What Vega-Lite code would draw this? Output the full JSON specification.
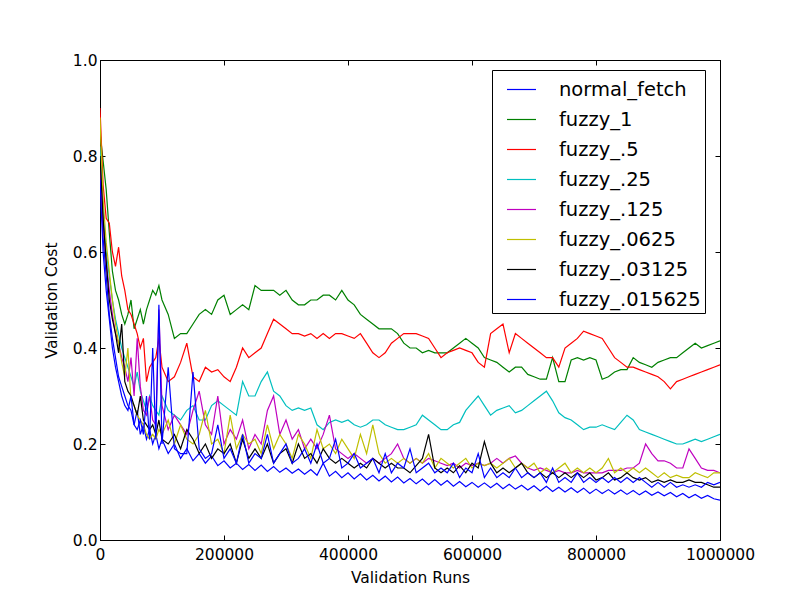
{
  "$schema": "https://vega.github.io/schema/vega-lite/v6.json",
  "width": 620,
  "height": 480,
  "autosize": {"type": "none"},
  "padding": {"left": 100, "top": 60, "right": 80, "bottom": 60},
  "background": "white",
  "data": {
    "values": [
      {"x": 0, "n": 0.80, "g": 0.85, "r": 0.90, "c": 0.82, "m": 0.78, "y": 0.88, "k": 0.80, "b": 0.75},
      {"x": 5000, "n": 0.63, "g": 0.79, "r": 0.74, "c": 0.68, "m": 0.66, "y": 0.71, "k": 0.67, "b": 0.60},
      {"x": 10000, "n": 0.55, "g": 0.73, "r": 0.67, "c": 0.60, "m": 0.58, "y": 0.62, "k": 0.58, "b": 0.52},
      {"x": 15000, "n": 0.47, "g": 0.64, "r": 0.66, "c": 0.55, "m": 0.52, "y": 0.56, "k": 0.50, "b": 0.46},
      {"x": 20000, "n": 0.42, "g": 0.56, "r": 0.60, "c": 0.50, "m": 0.47, "y": 0.50, "k": 0.46, "b": 0.40},
      {"x": 25000, "n": 0.38, "g": 0.52, "r": 0.57, "c": 0.46, "m": 0.43, "y": 0.45, "k": 0.43, "b": 0.36},
      {"x": 30000, "n": 0.34, "g": 0.50, "r": 0.61, "c": 0.43, "m": 0.41, "y": 0.41, "k": 0.39, "b": 0.33},
      {"x": 35000, "n": 0.32, "g": 0.47, "r": 0.55, "c": 0.40, "m": 0.38, "y": 0.37, "k": 0.45, "b": 0.30},
      {"x": 40000, "n": 0.30, "g": 0.45, "r": 0.52, "c": 0.38, "m": 0.36, "y": 0.34, "k": 0.33, "b": 0.28},
      {"x": 45000, "n": 0.28, "g": 0.47, "r": 0.48, "c": 0.36, "m": 0.33, "y": 0.40, "k": 0.31, "b": 0.27},
      {"x": 50000, "n": 0.27, "g": 0.50, "r": 0.47, "c": 0.34, "m": 0.38, "y": 0.29, "k": 0.30, "b": 0.30},
      {"x": 55000, "n": 0.24, "g": 0.44, "r": 0.45, "c": 0.32, "m": 0.30, "y": 0.28, "k": 0.28, "b": 0.24},
      {"x": 60000, "n": 0.27, "g": 0.46, "r": 0.43, "c": 0.35, "m": 0.42, "y": 0.26, "k": 0.26, "b": 0.23},
      {"x": 65000, "n": 0.22, "g": 0.48, "r": 0.40, "c": 0.31, "m": 0.32, "y": 0.25, "k": 0.30, "b": 0.25},
      {"x": 70000, "n": 0.24, "g": 0.45, "r": 0.42, "c": 0.29, "m": 0.27, "y": 0.24, "k": 0.25, "b": 0.22},
      {"x": 75000, "n": 0.21, "g": 0.48, "r": 0.33, "c": 0.27, "m": 0.26, "y": 0.22, "k": 0.24, "b": 0.30},
      {"x": 80000, "n": 0.23, "g": 0.50, "r": 0.36, "c": 0.30, "m": 0.30, "y": 0.21, "k": 0.23, "b": 0.21},
      {"x": 85000, "n": 0.20, "g": 0.52, "r": 0.37, "c": 0.28, "m": 0.25, "y": 0.22, "k": 0.24, "b": 0.40},
      {"x": 90000, "n": 0.22, "g": 0.51, "r": 0.38, "c": 0.27, "m": 0.24, "y": 0.21, "k": 0.22, "b": 0.21},
      {"x": 95000, "n": 0.19, "g": 0.53, "r": 0.42, "c": 0.26, "m": 0.48, "y": 0.23, "k": 0.25, "b": 0.49},
      {"x": 100000, "n": 0.21, "g": 0.50, "r": 0.36, "c": 0.30, "m": 0.28, "y": 0.22, "k": 0.21, "b": 0.20},
      {"x": 110000, "n": 0.18, "g": 0.47, "r": 0.33, "c": 0.27, "m": 0.23, "y": 0.25, "k": 0.20, "b": 0.36},
      {"x": 120000, "n": 0.20, "g": 0.42, "r": 0.34, "c": 0.26, "m": 0.26, "y": 0.20, "k": 0.22, "b": 0.19},
      {"x": 130000, "n": 0.17, "g": 0.43, "r": 0.37, "c": 0.25, "m": 0.24, "y": 0.24, "k": 0.19, "b": 0.18},
      {"x": 140000, "n": 0.19, "g": 0.43, "r": 0.41, "c": 0.27, "m": 0.22, "y": 0.21, "k": 0.23, "b": 0.18},
      {"x": 150000, "n": 0.165, "g": 0.45, "r": 0.34, "c": 0.28, "m": 0.27, "y": 0.20, "k": 0.21, "b": 0.35},
      {"x": 160000, "n": 0.18, "g": 0.47, "r": 0.33, "c": 0.25, "m": 0.31, "y": 0.22, "k": 0.18, "b": 0.19},
      {"x": 170000, "n": 0.16, "g": 0.48, "r": 0.36, "c": 0.25, "m": 0.24, "y": 0.27, "k": 0.20, "b": 0.17},
      {"x": 180000, "n": 0.175, "g": 0.47, "r": 0.35, "c": 0.28, "m": 0.22, "y": 0.20, "k": 0.17, "b": 0.18},
      {"x": 190000, "n": 0.155, "g": 0.50, "r": 0.355, "c": 0.29, "m": 0.30, "y": 0.21, "k": 0.19, "b": 0.24},
      {"x": 200000, "n": 0.165, "g": 0.51, "r": 0.34, "c": 0.28, "m": 0.20, "y": 0.18, "k": 0.18, "b": 0.17},
      {"x": 210000, "n": 0.15, "g": 0.47, "r": 0.33, "c": 0.27, "m": 0.23, "y": 0.26, "k": 0.20, "b": 0.19},
      {"x": 220000, "n": 0.16, "g": 0.48, "r": 0.36, "c": 0.26, "m": 0.21, "y": 0.19, "k": 0.16, "b": 0.16},
      {"x": 230000, "n": 0.147, "g": 0.49, "r": 0.40, "c": 0.33, "m": 0.25, "y": 0.22, "k": 0.21, "b": 0.22},
      {"x": 240000, "n": 0.157, "g": 0.48, "r": 0.38, "c": 0.30, "m": 0.19, "y": 0.20, "k": 0.17, "b": 0.16},
      {"x": 250000, "n": 0.145, "g": 0.53, "r": 0.39, "c": 0.30, "m": 0.22, "y": 0.21, "k": 0.19, "b": 0.18},
      {"x": 260000, "n": 0.156, "g": 0.52, "r": 0.40, "c": 0.33, "m": 0.20, "y": 0.18, "k": 0.17, "b": 0.17},
      {"x": 270000, "n": 0.143, "g": 0.52, "r": 0.43, "c": 0.35, "m": 0.27, "y": 0.24, "k": 0.20, "b": 0.22},
      {"x": 280000, "n": 0.153, "g": 0.52, "r": 0.46, "c": 0.31, "m": 0.30, "y": 0.19, "k": 0.16, "b": 0.16},
      {"x": 290000, "n": 0.141, "g": 0.51, "r": 0.45, "c": 0.30, "m": 0.22, "y": 0.22, "k": 0.18, "b": 0.18},
      {"x": 300000, "n": 0.15, "g": 0.52, "r": 0.44, "c": 0.28, "m": 0.25, "y": 0.20, "k": 0.19, "b": 0.20},
      {"x": 310000, "n": 0.139, "g": 0.50, "r": 0.43, "c": 0.27, "m": 0.21, "y": 0.17, "k": 0.16, "b": 0.16},
      {"x": 320000, "n": 0.148, "g": 0.49, "r": 0.43, "c": 0.275, "m": 0.23, "y": 0.22, "k": 0.20, "b": 0.17},
      {"x": 330000, "n": 0.137, "g": 0.49, "r": 0.425, "c": 0.27, "m": 0.19, "y": 0.20, "k": 0.17, "b": 0.19},
      {"x": 340000, "n": 0.147, "g": 0.50, "r": 0.43, "c": 0.275, "m": 0.21, "y": 0.17, "k": 0.18, "b": 0.16},
      {"x": 350000, "n": 0.135, "g": 0.50, "r": 0.42, "c": 0.24, "m": 0.19, "y": 0.23, "k": 0.16, "b": 0.20},
      {"x": 360000, "n": 0.16, "g": 0.51, "r": 0.43, "c": 0.23, "m": 0.22, "y": 0.19, "k": 0.19, "b": 0.16},
      {"x": 370000, "n": 0.133, "g": 0.51, "r": 0.42, "c": 0.245, "m": 0.26, "y": 0.20, "k": 0.17, "b": 0.17},
      {"x": 380000, "n": 0.143, "g": 0.50, "r": 0.43, "c": 0.25, "m": 0.19, "y": 0.18, "k": 0.16, "b": 0.21},
      {"x": 390000, "n": 0.13, "g": 0.52, "r": 0.43, "c": 0.245, "m": 0.18, "y": 0.21, "k": 0.17, "b": 0.15},
      {"x": 400000, "n": 0.14, "g": 0.50, "r": 0.425, "c": 0.25, "m": 0.17, "y": 0.19, "k": 0.16, "b": 0.16},
      {"x": 410000, "n": 0.127, "g": 0.49, "r": 0.42, "c": 0.24, "m": 0.18, "y": 0.17, "k": 0.15, "b": 0.18},
      {"x": 420000, "n": 0.138, "g": 0.47, "r": 0.43, "c": 0.235, "m": 0.17, "y": 0.22, "k": 0.16, "b": 0.15},
      {"x": 430000, "n": 0.125, "g": 0.46, "r": 0.41, "c": 0.24, "m": 0.16, "y": 0.18, "k": 0.15, "b": 0.16},
      {"x": 440000, "n": 0.135, "g": 0.45, "r": 0.39, "c": 0.25, "m": 0.17, "y": 0.24, "k": 0.17, "b": 0.17},
      {"x": 450000, "n": 0.123, "g": 0.44, "r": 0.38, "c": 0.25, "m": 0.16, "y": 0.18, "k": 0.16, "b": 0.14},
      {"x": 460000, "n": 0.133, "g": 0.44, "r": 0.39, "c": 0.24, "m": 0.17, "y": 0.16, "k": 0.15, "b": 0.18},
      {"x": 470000, "n": 0.121, "g": 0.44, "r": 0.41, "c": 0.235, "m": 0.18, "y": 0.17, "k": 0.16, "b": 0.14},
      {"x": 480000, "n": 0.131, "g": 0.43, "r": 0.42, "c": 0.23, "m": 0.20, "y": 0.16, "k": 0.15, "b": 0.16},
      {"x": 490000, "n": 0.119, "g": 0.41, "r": 0.43, "c": 0.23, "m": 0.17, "y": 0.17, "k": 0.15, "b": 0.15},
      {"x": 500000, "n": 0.128, "g": 0.40, "r": 0.43, "c": 0.235, "m": 0.16, "y": 0.16, "k": 0.14, "b": 0.19},
      {"x": 510000, "n": 0.117, "g": 0.40, "r": 0.43, "c": 0.24, "m": 0.17, "y": 0.17, "k": 0.155, "b": 0.14},
      {"x": 520000, "n": 0.127, "g": 0.39, "r": 0.425, "c": 0.26, "m": 0.16, "y": 0.16, "k": 0.17, "b": 0.15},
      {"x": 530000, "n": 0.115, "g": 0.395, "r": 0.42, "c": 0.25, "m": 0.17, "y": 0.18, "k": 0.22, "b": 0.16},
      {"x": 540000, "n": 0.126, "g": 0.39, "r": 0.40, "c": 0.24, "m": 0.165, "y": 0.15, "k": 0.15, "b": 0.14},
      {"x": 550000, "n": 0.114, "g": 0.39, "r": 0.38, "c": 0.23, "m": 0.16, "y": 0.17, "k": 0.14, "b": 0.15},
      {"x": 560000, "n": 0.124, "g": 0.39, "r": 0.39, "c": 0.23, "m": 0.155, "y": 0.16, "k": 0.15, "b": 0.14},
      {"x": 570000, "n": 0.112, "g": 0.40, "r": 0.395, "c": 0.24, "m": 0.16, "y": 0.15, "k": 0.14, "b": 0.16},
      {"x": 580000, "n": 0.122, "g": 0.41, "r": 0.40, "c": 0.245, "m": 0.15, "y": 0.16, "k": 0.155, "b": 0.13},
      {"x": 590000, "n": 0.111, "g": 0.42, "r": 0.395, "c": 0.27, "m": 0.16, "y": 0.17, "k": 0.14, "b": 0.15},
      {"x": 600000, "n": 0.12, "g": 0.41, "r": 0.39, "c": 0.285, "m": 0.155, "y": 0.15, "k": 0.16, "b": 0.14},
      {"x": 610000, "n": 0.11, "g": 0.40, "r": 0.37, "c": 0.30, "m": 0.16, "y": 0.16, "k": 0.15, "b": 0.18},
      {"x": 620000, "n": 0.119, "g": 0.38, "r": 0.36, "c": 0.28, "m": 0.155, "y": 0.155, "k": 0.205, "b": 0.13},
      {"x": 630000, "n": 0.109, "g": 0.375, "r": 0.43, "c": 0.26, "m": 0.16, "y": 0.16, "k": 0.16, "b": 0.15},
      {"x": 640000, "n": 0.118, "g": 0.37, "r": 0.44, "c": 0.27, "m": 0.17, "y": 0.15, "k": 0.14, "b": 0.13},
      {"x": 650000, "n": 0.107, "g": 0.36, "r": 0.45, "c": 0.275, "m": 0.16, "y": 0.16, "k": 0.15, "b": 0.14},
      {"x": 660000, "n": 0.116, "g": 0.35, "r": 0.39, "c": 0.28, "m": 0.17, "y": 0.17, "k": 0.14, "b": 0.13},
      {"x": 670000, "n": 0.106, "g": 0.36, "r": 0.43, "c": 0.265, "m": 0.175, "y": 0.15, "k": 0.15, "b": 0.15},
      {"x": 680000, "n": 0.114, "g": 0.36, "r": 0.42, "c": 0.27, "m": 0.16, "y": 0.16, "k": 0.16, "b": 0.13},
      {"x": 690000, "n": 0.104, "g": 0.345, "r": 0.41, "c": 0.28, "m": 0.15, "y": 0.15, "k": 0.14, "b": 0.14},
      {"x": 700000, "n": 0.113, "g": 0.34, "r": 0.40, "c": 0.29, "m": 0.145, "y": 0.16, "k": 0.13, "b": 0.13},
      {"x": 710000, "n": 0.102, "g": 0.335, "r": 0.39, "c": 0.30, "m": 0.15, "y": 0.14, "k": 0.14, "b": 0.14},
      {"x": 720000, "n": 0.112, "g": 0.335, "r": 0.38, "c": 0.31, "m": 0.145, "y": 0.15, "k": 0.13, "b": 0.12},
      {"x": 730000, "n": 0.101, "g": 0.38, "r": 0.38, "c": 0.29, "m": 0.14, "y": 0.14, "k": 0.14, "b": 0.15},
      {"x": 740000, "n": 0.11, "g": 0.33, "r": 0.36, "c": 0.265, "m": 0.145, "y": 0.15, "k": 0.13, "b": 0.12},
      {"x": 750000, "n": 0.10, "g": 0.33, "r": 0.40, "c": 0.255, "m": 0.14, "y": 0.16, "k": 0.14, "b": 0.13},
      {"x": 760000, "n": 0.109, "g": 0.375, "r": 0.41, "c": 0.25, "m": 0.14, "y": 0.14, "k": 0.13, "b": 0.12},
      {"x": 770000, "n": 0.099, "g": 0.38, "r": 0.42, "c": 0.24, "m": 0.145, "y": 0.15, "k": 0.14, "b": 0.14},
      {"x": 780000, "n": 0.108, "g": 0.375, "r": 0.435, "c": 0.23, "m": 0.14, "y": 0.14, "k": 0.13, "b": 0.12},
      {"x": 790000, "n": 0.097, "g": 0.38, "r": 0.43, "c": 0.235, "m": 0.14, "y": 0.15, "k": 0.14, "b": 0.13},
      {"x": 800000, "n": 0.106, "g": 0.375, "r": 0.425, "c": 0.235, "m": 0.14, "y": 0.14, "k": 0.125, "b": 0.12},
      {"x": 810000, "n": 0.097, "g": 0.335, "r": 0.42, "c": 0.24, "m": 0.14, "y": 0.15, "k": 0.13, "b": 0.13},
      {"x": 820000, "n": 0.105, "g": 0.34, "r": 0.40, "c": 0.235, "m": 0.145, "y": 0.17, "k": 0.14, "b": 0.12},
      {"x": 830000, "n": 0.096, "g": 0.35, "r": 0.38, "c": 0.23, "m": 0.145, "y": 0.14, "k": 0.125, "b": 0.13},
      {"x": 840000, "n": 0.104, "g": 0.355, "r": 0.37, "c": 0.245, "m": 0.145, "y": 0.15, "k": 0.13, "b": 0.12},
      {"x": 850000, "n": 0.095, "g": 0.355, "r": 0.36, "c": 0.26, "m": 0.15, "y": 0.14, "k": 0.14, "b": 0.13},
      {"x": 860000, "n": 0.103, "g": 0.38, "r": 0.36, "c": 0.25, "m": 0.15, "y": 0.15, "k": 0.13, "b": 0.12},
      {"x": 870000, "n": 0.094, "g": 0.37, "r": 0.355, "c": 0.23, "m": 0.16, "y": 0.14, "k": 0.125, "b": 0.13},
      {"x": 880000, "n": 0.102, "g": 0.365, "r": 0.35, "c": 0.225, "m": 0.20, "y": 0.15, "k": 0.13, "b": 0.12},
      {"x": 890000, "n": 0.093, "g": 0.36, "r": 0.345, "c": 0.22, "m": 0.18, "y": 0.14, "k": 0.12, "b": 0.11},
      {"x": 900000, "n": 0.10, "g": 0.37, "r": 0.34, "c": 0.215, "m": 0.165, "y": 0.13, "k": 0.125, "b": 0.12},
      {"x": 910000, "n": 0.092, "g": 0.375, "r": 0.33, "c": 0.21, "m": 0.165, "y": 0.14, "k": 0.12, "b": 0.11},
      {"x": 920000, "n": 0.099, "g": 0.38, "r": 0.315, "c": 0.205, "m": 0.16, "y": 0.13, "k": 0.125, "b": 0.12},
      {"x": 930000, "n": 0.09, "g": 0.38, "r": 0.33, "c": 0.20, "m": 0.15, "y": 0.135, "k": 0.12, "b": 0.11},
      {"x": 940000, "n": 0.097, "g": 0.39, "r": 0.335, "c": 0.20, "m": 0.15, "y": 0.13, "k": 0.12, "b": 0.115},
      {"x": 950000, "n": 0.088, "g": 0.40, "r": 0.34, "c": 0.205, "m": 0.19, "y": 0.13, "k": 0.125, "b": 0.11},
      {"x": 960000, "n": 0.095, "g": 0.41, "r": 0.345, "c": 0.21, "m": 0.17, "y": 0.14, "k": 0.12, "b": 0.115},
      {"x": 970000, "n": 0.087, "g": 0.40, "r": 0.35, "c": 0.205, "m": 0.15, "y": 0.135, "k": 0.12, "b": 0.11},
      {"x": 980000, "n": 0.093, "g": 0.405, "r": 0.355, "c": 0.21, "m": 0.145, "y": 0.13, "k": 0.115, "b": 0.12},
      {"x": 990000, "n": 0.086, "g": 0.41, "r": 0.36, "c": 0.215, "m": 0.145, "y": 0.14, "k": 0.11, "b": 0.115},
      {"x": 1000000, "n": 0.083, "g": 0.415, "r": 0.365, "c": 0.22, "m": 0.14, "y": 0.14, "k": 0.11, "b": 0.12}
    ]
  },
  "transform": [
    {"fold": ["n", "g", "r", "c", "m", "y", "k", "b"], "as": ["series", "cost"]}
  ],
  "layer": [
    {
      "mark": {"type": "line", "strokeWidth": 1.2, "clip": true},
      "encoding": {
        "x": {
          "field": "x",
          "type": "quantitative",
          "scale": {"domain": [0, 1000000], "nice": false, "zero": false},
          "axis": {
            "orient": "bottom",
            "title": "Validation Runs",
            "values": [0, 200000, 400000, 600000, 800000, 1000000],
            "format": "d",
            "tickSize": -5,
            "labelPadding": 12,
            "titlePadding": 8,
            "labelFlush": false
          }
        },
        "y": {
          "field": "cost",
          "type": "quantitative",
          "scale": {"domain": [0, 1], "nice": false},
          "axis": {
            "orient": "left",
            "title": "Validation Cost",
            "values": [0, 0.2, 0.4, 0.6, 0.8, 1.0],
            "format": ".1f",
            "tickSize": -5,
            "labelPadding": 8,
            "titlePadding": 13,
            "labelFlush": false
          }
        },
        "color": {
          "field": "series",
          "type": "nominal",
          "scale": {
            "domain": ["n", "g", "r", "c", "m", "y", "k", "b"],
            "range": ["#0000ff", "#008000", "#ff0000", "#00bfbf", "#bf00bf", "#bfbf00", "#000000", "#0000ff"]
          },
          "legend": {
            "title": null,
            "orient": "none",
            "legendX": 392,
            "legendY": 10,
            "direction": "vertical",
            "symbolType": "stroke",
            "symbolSize": 841,
            "symbolStrokeWidth": 1.2,
            "symbolOffset": 10,
            "labelFontSize": 19.5,
            "labelOffset": 22,
            "rowPadding": 5,
            "padding": 4,
            "strokeColor": "#000000",
            "fillColor": "#ffffff",
            "labelExpr": "datum.label == 'n' ? 'normal_fetch' : datum.label == 'g' ? 'fuzzy_1' : datum.label == 'r' ? 'fuzzy_.5' : datum.label == 'c' ? 'fuzzy_.25' : datum.label == 'm' ? 'fuzzy_.125' : datum.label == 'y' ? 'fuzzy_.0625' : datum.label == 'k' ? 'fuzzy_.03125' : 'fuzzy_.015625'"
          }
        }
      }
    },
    {
      "mark": {"type": "line", "opacity": 0},
      "encoding": {
        "x": {
          "field": "x",
          "type": "quantitative",
          "axis": {
            "orient": "top",
            "title": null,
            "labels": false,
            "values": [0, 200000, 400000, 600000, 800000, 1000000],
            "tickSize": -5
          }
        },
        "y": {
          "field": "cost",
          "type": "quantitative",
          "axis": {
            "orient": "right",
            "title": null,
            "labels": false,
            "values": [0, 0.2, 0.4, 0.6, 0.8, 1.0],
            "tickSize": -5
          }
        },
        "detail": {"field": "series"}
      }
    }
  ],
  "resolve": {"axis": {"x": "independent", "y": "independent"}},
  "config": {
    "font": "DejaVu Sans",
    "view": {"stroke": "#000000", "strokeWidth": 1},
    "axis": {
      "grid": false,
      "domainColor": "#000000",
      "tickColor": "#000000",
      "labelColor": "#000000",
      "titleColor": "#000000",
      "labelFont": "DejaVu Sans",
      "titleFont": "DejaVu Sans",
      "labelFontSize": 15.5,
      "titleFontSize": 15.5,
      "titleFontWeight": "normal"
    },
    "legend": {"labelFont": "DejaVu Sans", "labelColor": "#000000"}
  }
}
